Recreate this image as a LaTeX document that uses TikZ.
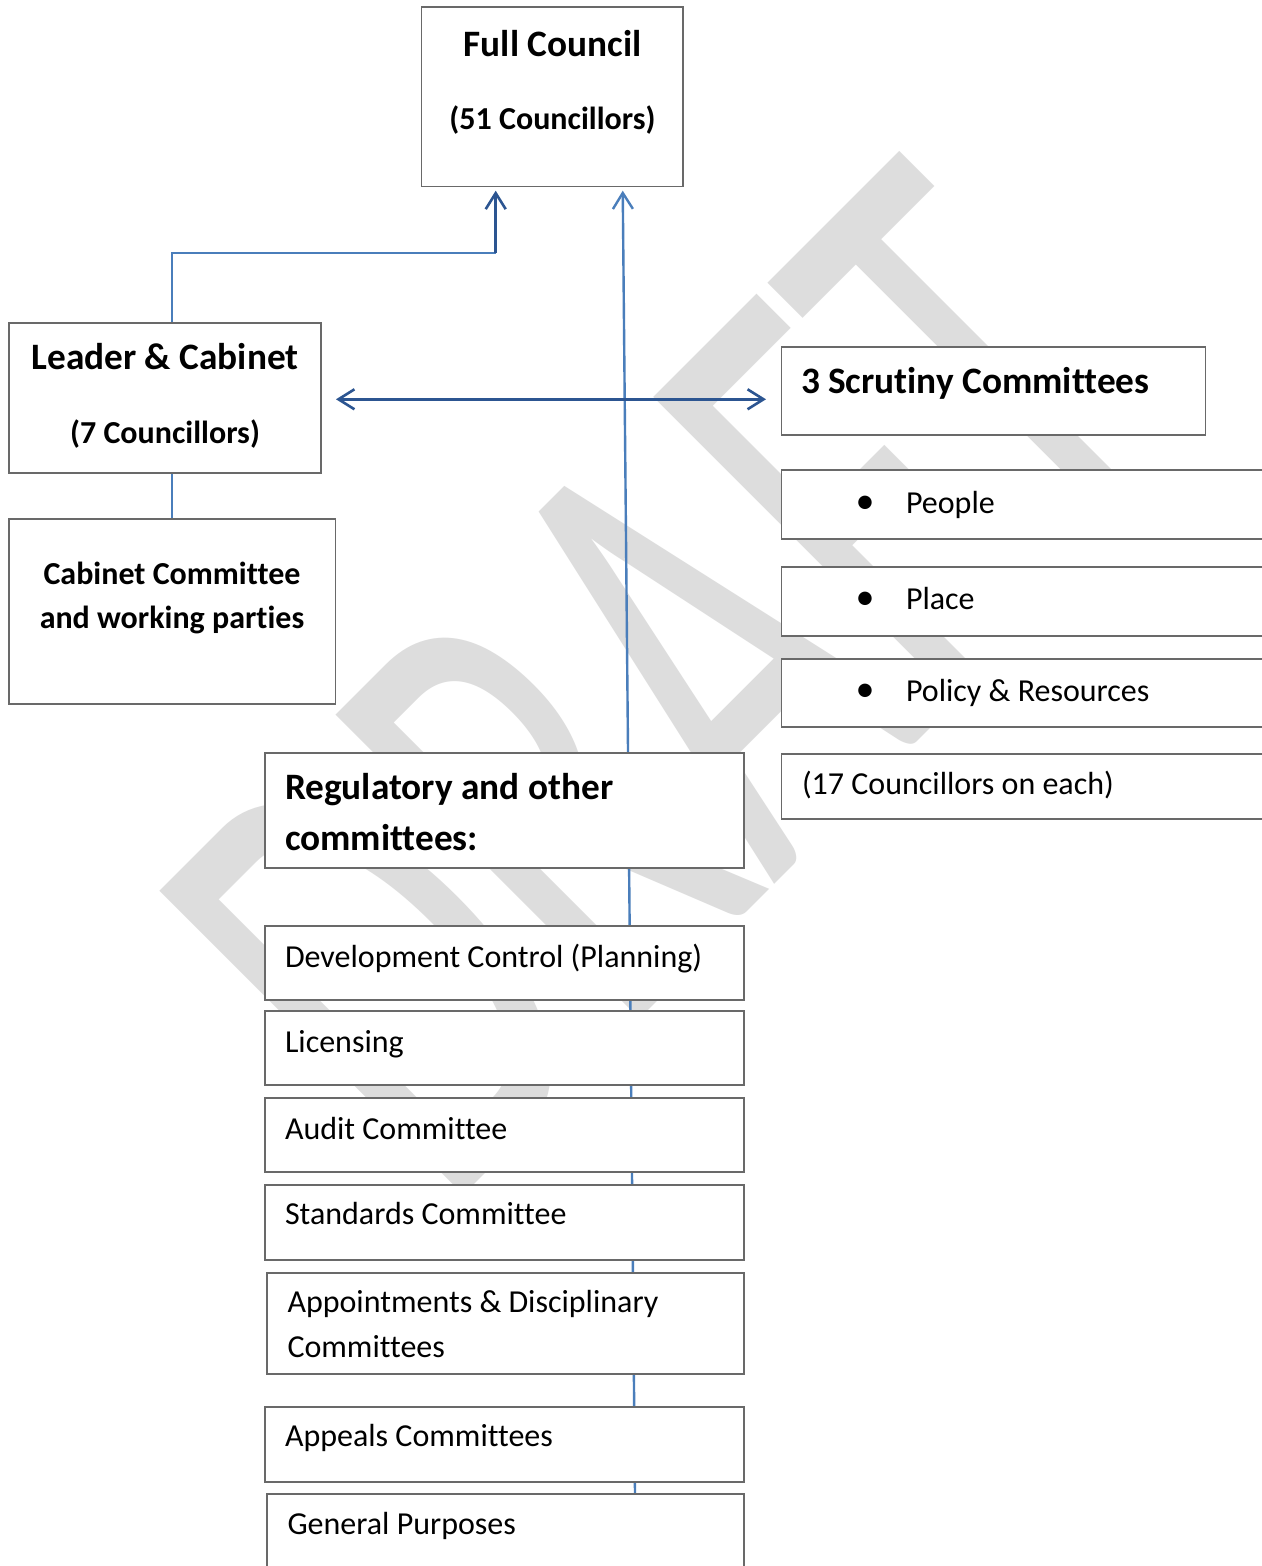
\documentclass[tikz,border=0pt]{standalone}
\usepackage{fontspec}
\setmainfont{Carlito}[Ligatures=NoCommon]
\newfontfamily\wmfont{Carlito}
\usetikzlibrary{arrows.meta}
\definecolor{lblue}{RGB}{74,126,187}
\definecolor{dblue}{RGB}{44,85,145}
\definecolor{bord}{RGB}{105,105,105}
\definecolor{wmgray}{RGB}{221,221,221}
\begin{document}
\begin{tikzpicture}[x=1pt,y=-1pt,
  box/.style={draw=bord, line width=1.3pt, fill=white, inner sep=0pt, outer sep=0pt, anchor=north west},
  txt/.style={inner sep=0pt, outer sep=0pt, text=black},
  bigb/.style={font=\fontsize{37.3}{51}\selectfont\bfseries},
  midb/.style={font=\fontsize{32}{44}\selectfont\bfseries},
  reg/.style={font=\fontsize{32}{44.5}\selectfont},
  bul/.style={txt, anchor=base, font=\fontsize{38}{38}\selectfont},
  lline/.style={draw=lblue, line width=2.4pt},
  dline/.style={draw=dblue, line width=2.6pt},
  tip/.style={-{Straight Barb[length=16pt,width=20pt]}},
  dtip/.style={{Straight Barb[length=16pt,width=20pt]}-{Straight Barb[length=16pt,width=20pt]}}
]
\useasboundingbox (0,0) rectangle (1261,1566);
\fill[white] (0,0) rectangle (1261,1566);

% watermark
\begin{scope}[shift={(674,681)}]
  \node[txt, text=wmgray, font=\wmfont\fontsize{100}{100}\selectfont,
        rotate=45, xscale=4.02, yscale=6.7] (wm) at (0,0) {DRAFT};
\end{scope}

% boxes (geometry first, for connector anchors)
\path
  (421.7,7)    node[box, minimum width=261.3pt, minimum height=179.7pt] (fc) {}
  (9,323)      node[box, minimum width=312pt,   minimum height=150pt]   (leader) {}
  (9,519)      node[box, minimum width=326.7pt, minimum height=185pt]   (cabc) {}
  (781.7,347)  node[box, minimum width=424pt,   minimum height=88pt]    (scr) {}
  (265,753)    node[box, minimum width=479pt,   minimum height=115pt]   (regc) {}
  (267,1494)   node[box, minimum width=477pt,   minimum height=100pt]   (gp) {};

\coordinate (lx) at (171.7,0);
\coordinate (ex) at (495.7,253);
\coordinate (tx) at (622.7,0);
\coordinate (bx) at (635,0);
\coordinate (da) at (0,399.3);

% connectors (drawn beneath boxes)
\draw[lline] (leader.north -| lx) |- (ex);
\draw[dline, tip, shorten >=4pt] (ex) -- (fc.south -| ex);
\draw[lline] (leader.south -| lx) -- (cabc.north -| lx);
\draw[lline, tip, shorten >=4pt] (gp.north -| bx) -- (fc.south -| tx);
\draw[dline, dtip, shorten <=15pt, shorten >=15.7pt] (leader.east |- da) -- (scr.west |- da);

% boxes on top of connectors
\path
  (421.7,7)    node[box, minimum width=261.3pt, minimum height=179.7pt] (fcb) {}
  (9,323)      node[box, minimum width=312pt,   minimum height=150pt]   (leaderb) {}
  (9,519)      node[box, minimum width=326.7pt, minimum height=185pt]   (cabcb) {}
  (781.7,347)  node[box, minimum width=424pt,   minimum height=88pt]    (scrb) {}
  (781.7,470)  node[box, minimum width=500pt,   minimum height=69pt]    (people) {}
  (781.7,567)  node[box, minimum width=500pt,   minimum height=69pt]    (place) {}
  (781.7,659)  node[box, minimum width=500pt,   minimum height=68pt]    (policy) {}
  (781.7,754)  node[box, minimum width=500pt,   minimum height=65pt]    (seventeen) {}
  (265,753)    node[box, minimum width=479pt,   minimum height=115pt]   (regb) {}
  (265,926)    node[box, minimum width=479pt,   minimum height=74pt]    (dev) {}
  (265,1011)   node[box, minimum width=479pt,   minimum height=74pt]    (lic) {}
  (265,1098)   node[box, minimum width=479pt,   minimum height=74pt]    (audit) {}
  (265,1185)   node[box, minimum width=479pt,   minimum height=75pt]    (std) {}
  (267,1273)   node[box, minimum width=477pt,   minimum height=101pt]   (appd) {}
  (265,1407)   node[box, minimum width=479pt,   minimum height=75pt]    (appeals) {}
  (267,1494)   node[box, minimum width=477pt,   minimum height=100pt]   (gpb) {};

% texts
\node[txt, align=center, anchor=base, font=\fontsize{37.3}{72.5}\selectfont\bfseries] (fct) at (552.5,129)
  {Full Council\\\fontsize{32}{72.5}\selectfont(51 Councillors)};
\node[txt, align=center, anchor=base, font=\fontsize{37.3}{74}\selectfont\bfseries] (leadt) at (165,443)
  {Leader \& Cabinet\\\fontsize{32}{74}\selectfont(7 Councillors)};
\node[txt, midb, align=center, anchor=base] (cabct) at (172,628.5) {Cabinet Committee\\and working parties};
\node[txt, bigb, anchor=base west] (scrt) at (801,393.5) {3 Scrutiny Committees};
\node[bul] (b1) at (865,513) {•};
\node[bul] (b2) at (865,609.5) {•};
\node[bul] (b3) at (865,701) {•};
\node[txt, reg, anchor=base west] (peoplet) at (906,513) {People};
\node[txt, reg, anchor=base west] (placet) at (906,609.5) {Place};
\node[txt, reg, anchor=base west] (policyt) at (906,701) {Policy \& Resources};
\node[txt, reg, anchor=base west] (sevt) at (802,794.5) {(17 Councillors on each)};
\node[txt, bigb, align=left, anchor=base west] (regt) at (285,850) {Regulatory and other\\committees:};
\node[txt, reg, anchor=base west] (devt) at (285,967) {Development Control (Planning)};
\node[txt, reg, anchor=base west] (lict) at (285,1052) {Licensing};
\node[txt, reg, anchor=base west] (auditt) at (285,1139) {Audit Committee};
\node[txt, reg, anchor=base west] (stdt) at (285,1224) {Standards Committee};
\node[txt, reg, align=left, anchor=base west] (appdt) at (287.5,1357) {Appointments \& Disciplinary\\Committees};
\node[txt, reg, anchor=base west] (appealst) at (285,1446) {Appeals Committees};
\node[txt, reg, anchor=base west] (gpt) at (287.5,1534) {General Purposes};
\end{tikzpicture}
\end{document}
